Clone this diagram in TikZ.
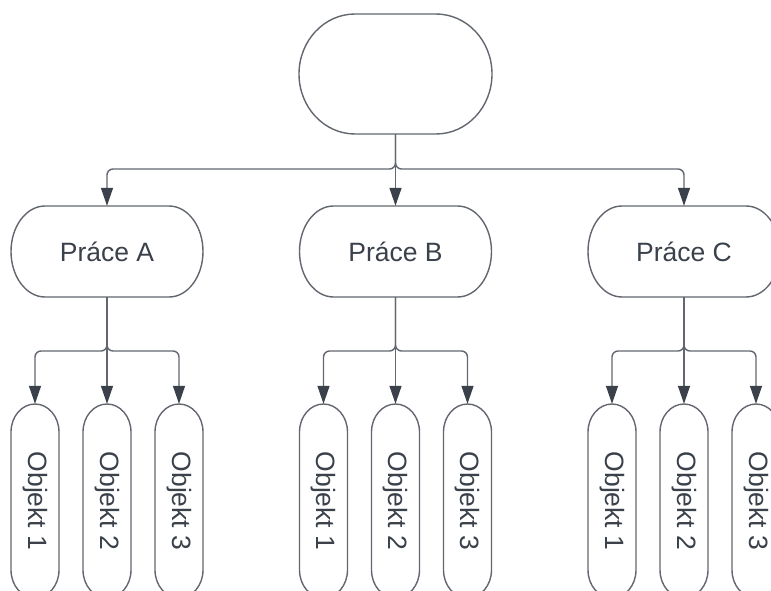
\documentclass[tikz,border=0pt]{standalone}
\usepackage{fontspec}
\setmainfont{Liberation Sans}
\usetikzlibrary{arrows.meta}
\definecolor{edgegray}{HTML}{62676F}
\definecolor{inkdark}{HTML}{3A414A}
\tikzset{
  outline/.style={draw=edgegray, line width=1.4pt, fill=white},
  box/.style={text=inkdark, font=\fontsize{26.5}{30}\selectfont, inner sep=0pt},
  rootbox/.style={box, minimum width=193pt, minimum height=120pt},
  taskbox/.style={box, minimum width=192pt, minimum height=91pt},
  objbox/.style={box, minimum width=48pt, minimum height=194pt},
  objtext/.style={box, rotate=-90},
  conn/.style={draw=edgegray, line width=1.4pt, rounded corners=6pt,
    -{Triangle[length=18pt,width=12pt,fill=inkdark,color=inkdark]}},
}
% capsule outline with elliptic ends: centre x, centre y, half width, half height, x radius, y radius
\newcommand\capsule[6]{%
  \begin{scope}[shift={(#1,#2)}]
    \pgfmathsetmacro\cpw{#3}\pgfmathsetmacro\cph{#4}%
    \pgfmathsetmacro\cprx{#5}\pgfmathsetmacro\cpry{#6}%
    \pgfmathsetmacro\cpk{0.5523}%
    \draw[outline]
      ({-\cpw+\cprx},{-\cph}) -- ({\cpw-\cprx},{-\cph})
      .. controls ({\cpw-\cprx+\cpk*\cprx},{-\cph}) and ({\cpw},{-\cph+\cpry-\cpk*\cpry}) .. ({\cpw},{-\cph+\cpry})
      -- ({\cpw},{\cph-\cpry})
      .. controls ({\cpw},{\cph-\cpry+\cpk*\cpry}) and ({\cpw-\cprx+\cpk*\cprx},{\cph}) .. ({\cpw-\cprx},{\cph})
      -- ({-\cpw+\cprx},{\cph})
      .. controls ({-\cpw+\cprx-\cpk*\cprx},{\cph}) and ({-\cpw},{\cph-\cpry+\cpk*\cpry}) .. ({-\cpw},{\cph-\cpry})
      -- ({-\cpw},{-\cph+\cpry})
      .. controls ({-\cpw},{-\cph+\cpry-\cpk*\cpry}) and ({-\cpw+\cprx-\cpk*\cprx},{-\cph}) .. cycle;
  \end{scope}}
\begin{document}
\begin{tikzpicture}[x={(1pt,0pt)}, y={(0pt,-1pt)}]
  \useasboundingbox (0,0) rectangle (771,591);
  \clip (0,0) rectangle (771,591);

  % root and the three tasks
  \capsule{395.5}{74}{96.5}{60}{56}{60}
  \node[rootbox] (root) at (395.5,74) {};
  \foreach \t/\cx/\lab in {a/107/A, b/395.5/B, c/684/C} {
    \capsule{\cx}{251.5}{96}{45.5}{34}{45.5}
    \node[taskbox] (p\t) at (\cx,251.5) {Práce \lab};
  }

  % objects under each task
  \foreach \t/\cx in {a/107, b/395.5, c/684} {
    \foreach \i/\dx in {1/-72, 2/0, 3/72} {
      \capsule{\cx+\dx}{501}{24}{97}{24}{28}
      \node[objbox] (o\t\i) at (\cx+\dx,501) {};
      \node[objtext] at (o\t\i.center) {Objekt \i};
    }
  }

  % branching points
  \coordinate (jroot) at (395.5,169);
  \coordinate (ja) at (107,351);
  \coordinate (jb) at (395.5,351);
  \coordinate (jc) at (684,351);

  % root to tasks
  \draw[conn] (root.south) -- (jroot) -| (pa.north);
  \draw[conn] (root.south) -- (pb.north);
  \draw[conn] (root.south) -- (jroot) -| (pc.north);

  % tasks to objects
  \foreach \t in {a,b,c} {
    \draw[conn] (p\t.south) -- (j\t) -| (o\t1.north);
    \draw[conn] (p\t.south) -- (o\t2.north);
    \draw[conn] (p\t.south) -- (j\t) -| (o\t3.north);
  }
\end{tikzpicture}
\end{document}
